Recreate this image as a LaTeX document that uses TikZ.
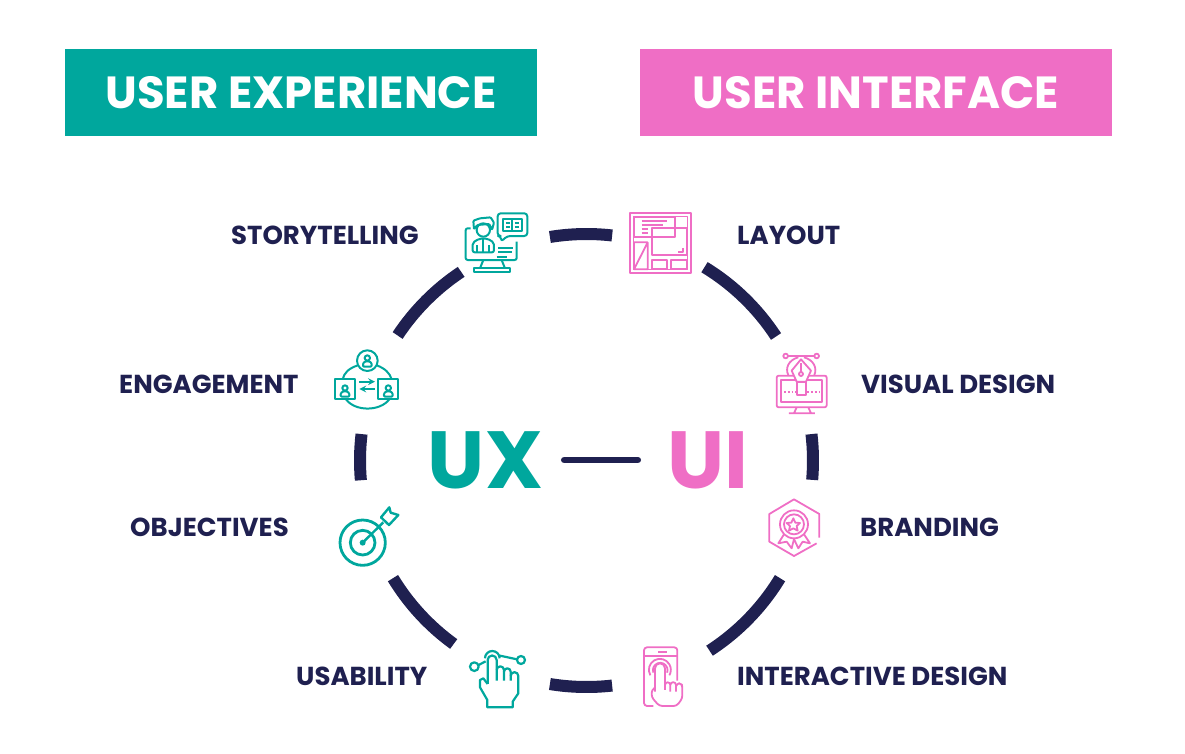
\documentclass[tikz,border=0pt]{standalone}
\usepackage{fontspec}
\setmainfont{Poppins}
\usepackage{tikz}
\usetikzlibrary{positioning}
\definecolor{uxteal}{HTML}{00A79D}
\definecolor{uipink}{HTML}{EF6EC5}
\definecolor{ringnavy}{HTML}{1F2050}
\tikzset{
	headbox/.style={minimum width=472pt,minimum height=87pt,inner sep=0pt,text=white,font=\fontsize{45}{46}\selectfont\bfseries},
	itemlabel/.style={anchor=west,inner sep=0pt,text=ringnavy,font=\fontsize{26}{27}\selectfont\bfseries},
	bigmark/.style={inner sep=0pt,font=\fontsize{81}{81}\selectfont\bfseries},
	ringarc/.style={draw=ringnavy,line width=12pt},
	uxline/.style={draw=uxteal,line width=2pt,line join=round},
	uiline/.style={draw=uipink,line width=1.8pt,line join=round},
	cropA/.style={shift={(320,200)},x=0.3333pt,y=-0.3333pt},
	cropB/.style={shift={(320,490)},x=0.3333pt,y=-0.3333pt},
	cropC/.style={shift={(620,200)},x=0.3333pt,y=-0.3333pt},
	cropD/.style={shift={(620,490)},x=0.3333pt,y=-0.3333pt}
}
\newcommand{\ringpiece}[2]{\draw[ringarc] (586.5,460.5) ++(#1:226.5) arc[start angle=#1,end angle=#2,radius=226.5];}
\newcommand{\smallperson}[2]{%
	\begin{scope}[shift={(#1,#2)}]
		\draw[uxline] (0,-8) circle (8);
		\draw[uxline,rounded corners=1pt] (-13,18) -- (-13,8) -- (-6,2) -- (6,2) -- (13,8) -- (13,18) -- cycle;
	\end{scope}}
\begin{document}
\begin{tikzpicture}[x=1pt,y=-1pt]
	\useasboundingbox (0,0) rectangle (1185,753);
	% header bars
	\node[headbox,fill=uxteal] (uxhead) at (301,92.5) {USER EXPERIENCE};
	\node[headbox,fill=uipink] (uihead) at (876,92.5) {USER INTERFACE};
	% ring pieces
	\ringpiece{-99.3}{-83.5}
	\ringpiece{-58.6}{-33.2}
	\ringpiece{-6.7}{4.9}
	\ringpiece{31.3}{57.1}
	\ringpiece{83.5}{99.3}
	\ringpiece{125.9}{148.7}
	\ringpiece{175}{186.7}
	\ringpiece{213.5}{236.4}
	% centre
	\node[bigmark,text=uxteal] (uxmark) at (485.5,460) {UX};
	\node[bigmark,text=uipink] (uimark) at (707.5,460) {UI};
	\draw[ringnavy,line width=6.5pt,line cap=round,shorten <=21pt,shorten >=29pt] (uxmark) -- (uimark);
	% left labels
	\node[itemlabel] (storylabel) at (231,235) {STORYTELLING};
	\node[itemlabel] (engagelabel) at (119,384) {ENGAGEMENT};
	\node[itemlabel] (objectlabel) at (130,527) {OBJECTIVES};
	\node[itemlabel] (usablelabel) at (296,676) {USABILITY};
	% right labels
	\node[itemlabel] (layoutlabel) at (737,235) {LAYOUT};
	\node[itemlabel] (visuallabel) at (861,384) {VISUAL DESIGN};
	\node[itemlabel] (brandlabel) at (860,527) {BRANDING};
	\node[itemlabel] (interlabel) at (737,676) {INTERACTIVE DESIGN};
	% storytelling icon
	\begin{scope}[cropA]
		\draw[uxline,rounded corners=2pt] (452,85) -- (437,85) -- (437,180) -- (590,180) -- (590,125);
		\draw[uxline] (490,180) -- (480,205) (545,180) -- (555,205);
		\draw[uxline] (463,205) rectangle (570,215);
		\draw[uxline] (490,90) circle (20);
		\draw[uxline,rounded corners=1pt] (462,88) -- (460,62) -- (480,55) -- (512,52) -- (522,68) -- (516,90) -- (508,72) -- (472,75) -- cycle;
		\draw[uxline,rounded corners=2pt] (458,157) -- (458,128) -- (478,116) -- (503,116) -- (522,128) -- (522,157) -- cycle;
		\draw[uxline] (490,118) -- (490,157) (472,135) -- (472,157) (508,135) -- (508,157);
		\draw[uxline,rounded corners=3pt] (533,40) -- (622,40) -- (622,108) -- (562,108) -- (543,125) -- (543,108) -- (533,108) -- cycle;
		\draw[uxline] (550,58) rectangle (605,92) (577,58) -- (577,92);
		\draw[uxline] (558,68) -- (570,68) (558,80) -- (570,80) (585,68) -- (597,68) (585,80) -- (597,80);
		\draw[uxline] (535,143) -- (580,143) (535,157) -- (575,157) (530,171) -- (560,171);
	\end{scope}
	% engagement icon
	\begin{scope}[cropA]
		\draw[uxline] (142,482) circle (31);
		\draw[uxline] (45,538) rectangle (105,598);
		\draw[uxline] (175,538) rectangle (235,598);
		\draw[uxline] (114,496) .. controls (85,505) and (72,520) .. (68,538);
		\draw[uxline] (170,496) .. controls (195,505) and (210,520) .. (215,538);
		\draw[uxline] (78,598) .. controls (105,635) and (180,635) .. (208,598);
		\draw[uxline,->,>=stealth] (118,545) -- (165,545);
		\draw[uxline,->,>=stealth] (165,567) -- (118,567);
		\smallperson{142}{482}
		\smallperson{75}{572}
		\smallperson{205}{572}
	\end{scope}
	% objectives icon
	\begin{scope}[cropB]
		\draw[uxteal,line width=2.8pt] (128,158) circle (68);
		\draw[uxteal,line width=2.8pt] (128,158) circle (37);
		\fill[uxteal] (128,158) circle (9);
		\draw[uxteal,line width=2.4pt] (128,158) -- (190,97);
		\draw[uxline,line width=2.4pt] (183,82) -- (208,52) -- (212,68) -- (235,75) -- (207,105) -- cycle;
	\end{scope}
	% usability icon
	\begin{scope}[cropB]
		\draw[uxline,line width=2.2pt] (463,530) circle (13);
		\draw[uxline,line width=2.2pt] (603,510) circle (12);
		\draw[uxline,line width=2.2pt] (476,525) -- (497,514) (540,497) -- (591,508);
		\draw[uxline,line width=2.2pt] (495,505) arc[start angle=180,end angle=360,radius=22];
		\draw[uxline,line width=2.2pt] (503,582) -- (503,510) arc[start angle=180,end angle=360,radius=13.5] -- (530,572);
		\draw[uxline,line width=2.2pt] (530,540) arc[start angle=180,end angle=360,radius=11] -- (552,572);
		\draw[uxline,line width=2.2pt] (552,545) arc[start angle=180,end angle=360,radius=10] -- (572,572);
		\draw[uxline,line width=2.2pt] (572,558) arc[start angle=180,end angle=360,radius=11.5] -- (595,610) -- (578,635) -- (578,652) -- (502,652) -- (502,630) -- (480,592) -- (480,570) -- (490,565) -- (503,582);
	\end{scope}
	% layout icon
	\begin{scope}[cropC]
		\draw[uiline] (30,40) rectangle (212,220);
		\draw[uiline,line width=1pt] (40,50) rectangle (202,210);
		\draw[uiline] (42,50) rectangle (165,112);
		\draw[uiline] (65,62) -- (140,62) (65,75) -- (130,75) (65,87) -- (85,87) (65,99) -- (85,99);
		\draw[uiline] (95,85) rectangle (200,165);
		\draw[uiline] (175,157) -- (190,157) -- (190,145);
		\draw[uiline] (42,127) rectangle (83,208) (42,208) -- (83,127);
		\draw[uiline] (95,180) rectangle (140,208);
		\draw[uiline] (152,180) rectangle (200,208);
	\end{scope}
	% visual design icon
	\begin{scope}[cropC]
		\draw[uiline,rounded corners=2pt] (470,527) rectangle (620,622);
		\draw[uiline] (483,540) rectangle (607,607);
		\draw[uiline] (530,622) -- (522,640) (565,622) -- (573,640) (507,640) -- (585,640);
		\draw[uiline,dotted] (492,576) -- (528,576) (562,576) -- (600,576);
		\draw[uiline,fill=white] (530,545) rectangle (558,585);
		\draw[uiline,fill=white,line join=round] (543,478) -- (515,512) -- (530,545) -- (558,545) -- (573,512) -- cycle;
		\draw[uiline] (543,490) -- (543,515);
		\draw[uiline] (543,522) circle (6);
		\draw[uiline] (497,468) circle (7) (590,468) circle (7);
		\draw[uiline] (504,468) -- (583,468);
		\draw[uiline] (505,525) .. controls (495,505) and (505,480) .. (535,472);
		\draw[uiline] (583,525) .. controls (592,505) and (582,480) .. (552,472);
	\end{scope}
	% branding icon
	\begin{scope}[cropD]
		\draw[uiline] (590,160) -- (522,198) -- (448,155) -- (448,72) -- (522,28) -- (598,72) -- (598,143);
		\draw[uiline] (522,103) circle (42);
		\draw[uiline] (522,103) circle (30);
		\draw[uiline] (520,85) -- (526,98) -- (540,99) -- (530,108) -- (533,122) -- (520,115) -- (507,122) -- (510,108) -- (500,99) -- (514,98) -- cycle;
		\draw[uiline] (492,133) -- (475,160) -- (500,155) -- (515,175) -- (522,147) -- (535,175) -- (548,155) -- (570,160) -- (552,133);
	\end{scope}
	% interactive design icon
	\begin{scope}[cropD]
		\draw[uiline,rounded corners=3pt] (100,648) -- (72,648) -- (72,472) -- (172,472) -- (172,572);
		\draw[uiline] (72,497) -- (172,497) (115,486) -- (140,486);
		\draw[uiline] (91,556) arc[start angle=150,end angle=390,radius=33];
		\draw[uiline] (100,548) arc[start angle=160,end angle=380,radius=22];
		\fill[white] (105,600) -- (105,535) -- (135,535) -- (135,585) -- (187,590) -- (187,625) -- (170,648) -- (118,648) -- (95,622) -- (95,600) -- cycle;
		\draw[uiline] (105,605) -- (105,535) arc[start angle=180,end angle=360,radius=15] -- (135,600);
		\draw[uiline] (135,585) arc[start angle=180,end angle=360,radius=8] -- (151,605);
		\draw[uiline] (151,585) arc[start angle=180,end angle=360,radius=8.5] -- (168,605);
		\draw[uiline,rounded corners=3pt] (168,590) -- (170,580) -- (185,580) -- (187,592) -- (187,625) -- (170,648) -- (118,648) -- (95,622) -- (95,600) -- (105,593);
	\end{scope}
\end{tikzpicture}
\end{document}
